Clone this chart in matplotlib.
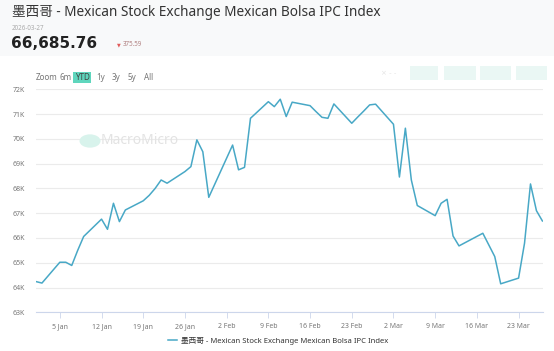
import matplotlib
matplotlib.use('Agg')
import matplotlib.pyplot as plt
import matplotlib.dates as mdates
from matplotlib.patches import FancyBboxPatch, Circle

plt.rcParams['font.family'] = ['Noto Sans', 'Noto Sans CJK SC', 'DejaVu Sans']

# 数据 (2026 年交易日)
dates = ['2026-01-01', '2026-01-02', '2026-01-05', '2026-01-06', '2026-01-07', '2026-01-08',
         '2026-01-09', '2026-01-12', '2026-01-13', '2026-01-14', '2026-01-15', '2026-01-16',
         '2026-01-19', '2026-01-20', '2026-01-21', '2026-01-22', '2026-01-23', '2026-01-26',
         '2026-01-27', '2026-01-28', '2026-01-29', '2026-01-30', '2026-02-03', '2026-02-04',
         '2026-02-05', '2026-02-06', '2026-02-09', '2026-02-10', '2026-02-11', '2026-02-12',
         '2026-02-13', '2026-02-16', '2026-02-17', '2026-02-18', '2026-02-19', '2026-02-20',
         '2026-02-23', '2026-02-24', '2026-02-25', '2026-02-26', '2026-02-27', '2026-03-02',
         '2026-03-03', '2026-03-04', '2026-03-05', '2026-03-06', '2026-03-09', '2026-03-10',
         '2026-03-11', '2026-03-12', '2026-03-13', '2026-03-17', '2026-03-18', '2026-03-19',
         '2026-03-20', '2026-03-23', '2026-03-24', '2026-03-25', '2026-03-26', '2026-03-27']
values = [64240, 64180, 65020, 65020, 64890, 65500,
          66060, 66760, 66350, 67400, 66660, 67130,
          67500, 67720, 68000, 68340, 68210, 68680,
          68880, 69960, 69480, 67640, 69750, 68750,
          68850, 70830, 71500, 71300, 71600, 70900,
          71480, 71340, 71100, 70870, 70830, 71410,
          70630, 70880, 71120, 71370, 71400, 70590,
          68460, 70430, 68340, 67310, 66900, 67400,
          67560, 66080, 65680, 66190, 65720, 65250,
          64150, 64380, 65790, 68180, 67100, 66686]
y_ticks = [63000, 64000, 65000, 66000, 67000, 68000, 69000, 70000, 71000, 72000]
y_labels = ['63K', '64K', '65K', '66K', '67K', '68K', '69K', '70K', '71K', '72K']
x_ticks = ['2026-01-05', '2026-01-12', '2026-01-19', '2026-01-26', '2026-02-02', '2026-02-09',
           '2026-02-16', '2026-02-23', '2026-03-02', '2026-03-09', '2026-03-16', '2026-03-23']
x_labels = ['5 Jan', '12 Jan', '19 Jan', '26 Jan', '2 Feb', '9 Feb',
            '16 Feb', '23 Feb', '2 Mar', '9 Mar', '16 Mar', '23 Mar']
buttons = ['Zoom', '6m', 'YTD', '1y', '3y', '5y', 'All']
series_name = '墨西哥 - Mexican Stock Exchange Mexican Bolsa IPC Index'

W, H = 554, 351
fig = plt.figure(figsize=(W / 100, H / 100), dpi=100)
fig.patch.set_facecolor('white')

# 顶部灰色区域
fig.patches.append(plt.Rectangle((0, 1 - 56 / H), 1, 56 / H, transform=fig.transFigure,
                                 facecolor='#f8f9fa', edgecolor='none', zorder=0))

fig.text(12 / W, 1 - 13 / H, series_name, fontsize=9.8, color='#333333', va='center', ha='left')
fig.text(12 / W, 1 - 28 / H, '2026-03-27', fontsize=4.5, color='#aaaaaa', va='center', ha='left')
fig.text(11 / W, 1 - 44 / H, '66,685.76', fontsize=11, fontweight='bold', color='#222222',
         va='center', ha='left', family=['DejaVu Sans'])
fig.text(117 / W, 1 - 45 / H, '▼', fontsize=3.5, color='#e05a5a', va='center', ha='left',
         family=['DejaVu Sans'])
fig.text(123 / W, 1 - 45 / H, '375.59', fontsize=4.5, color='#b08080', va='center', ha='left')

# 范围按钮
bx = [36, 60, 75, 96, 112, 128, 144]
for b, x in zip(buttons, bx):
    if b == 'YTD':
        fig.patches.append(FancyBboxPatch((73 / W, 1 - 83 / H), 18 / W, 11 / H,
                                          boxstyle='round,pad=0', transform=fig.transFigure,
                                          facecolor='#5fd6bd', edgecolor='none'))
        fig.text(82 / W, 1 - 77.5 / H, b, fontsize=5.8, color='#444444', va='center', ha='center')
    else:
        fig.text(x / W, 1 - 77.5 / H, b, fontsize=5.8, color='#777777', va='center', ha='left')

# 右上角淡色按钮
for x0, w in [(410, 28), (444, 32), (480, 31), (516, 31)]:
    fig.patches.append(FancyBboxPatch((x0 / W, 1 - 80 / H), w / W, 14 / H,
                                      boxstyle='round,pad=0', transform=fig.transFigure,
                                      facecolor='#eaf7f4', edgecolor='none'))
fig.text(381 / W, 1 - 73 / H, '× - -', fontsize=5, color='#e4e4e4', va='center', ha='left',
         family=['DejaVu Sans'])

ax = fig.add_axes([36 / W, 1 - 312.3 / H, (543 - 36) / W, (312.3 - 89.3) / H])
ax.set_facecolor('none')

d = mdates.datestr2num(dates)
ax.plot(d, values, color='#48a8c6', linewidth=1.1, label=series_name, zorder=3)

ax.set_ylim(63000, 72000)
ax.set_xlim(mdates.datestr2num('2026-01-01'), mdates.datestr2num('2026-03-27') + 0.1)
ax.set_yticks(y_ticks)
ax.set_yticklabels(y_labels)
ax.set_xticks(mdates.datestr2num(x_ticks))
ax.set_xticklabels(x_labels)
ax.yaxis.grid(True, color='#ebebeb', linewidth=0.8)
ax.tick_params(axis='y', length=0, labelsize=5, labelcolor='#777777', pad=8)
ax.tick_params(axis='x', length=4, width=0.6, color='#ccd6eb', labelsize=5,
               labelcolor='#777777', pad=4)
for s in ['top', 'right', 'left']:
    ax.spines[s].set_visible(False)
ax.spines['bottom'].set_color('#ccd6eb')
ax.spines['bottom'].set_linewidth(0.8)

# 水印
fig.patches.append(Circle((90 / W, 1 - 141 / H), 10.5 / W, transform=fig.transFigure,
                          facecolor='#d8f3ec', edgecolor='none', zorder=1))
fig.text(101 / W, 1 - 141 / H, 'MacroMicro', fontsize=10, color='#e3e3e3', va='center',
         ha='left', fontweight='bold', zorder=1)

leg = fig.legend(loc='center', bbox_to_anchor=(278 / W, 1 - 341 / H), frameon=False,
                 fontsize=5.5, handlelength=1.2, handletextpad=0.5)
for t in leg.get_texts():
    t.set_color('#333333')

fig.savefig('out.png', dpi=100)
